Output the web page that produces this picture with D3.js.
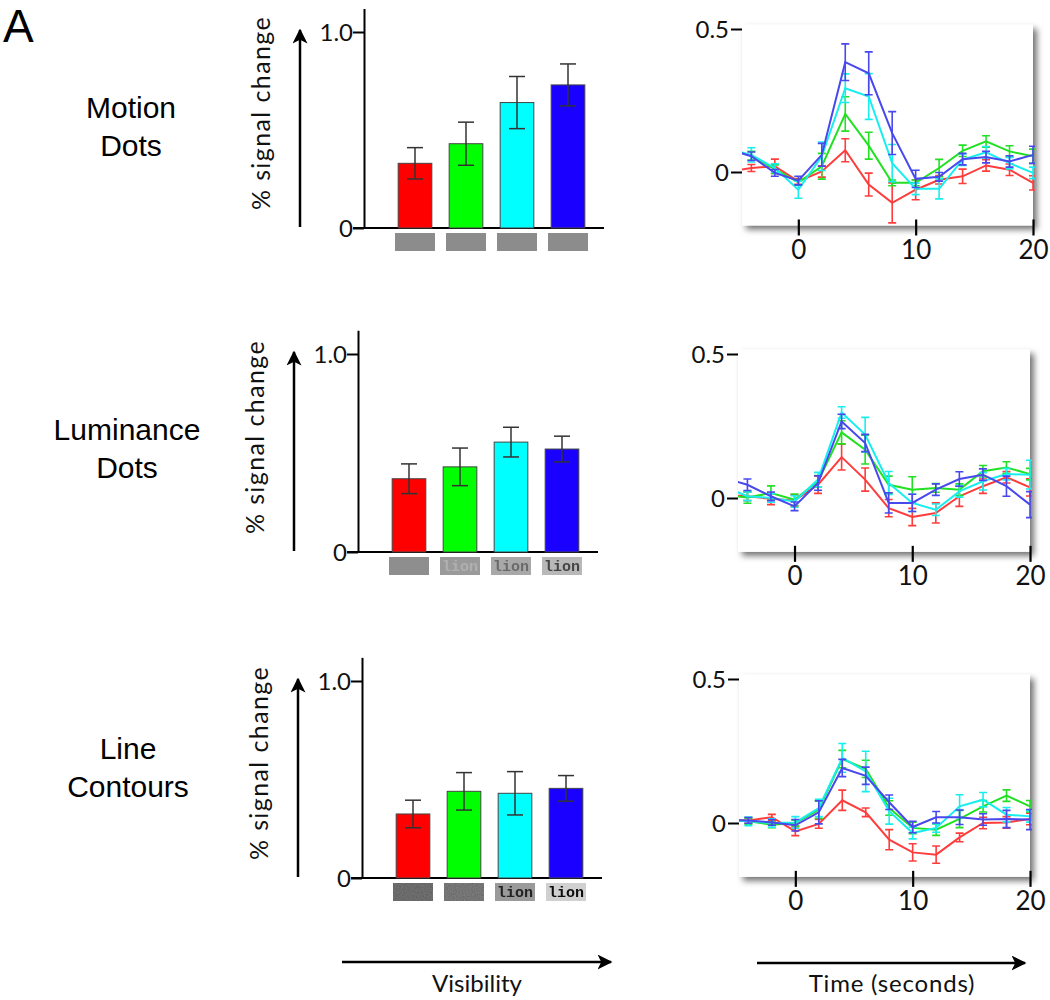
<!DOCTYPE html>
<html><head><meta charset="utf-8">
<script src="https://cdn.jsdelivr.net/npm/d3@7"></script>
<style>
html,body{margin:0;padding:0;background:#fff;}
svg{display:block;}
</style></head>
<body>
<svg id="chart" width="1050" height="1000"></svg>
<script>
// ---------- DATA ----------
const conditions = ["c1", "c2", "c3", "c4"];
const rowLabels = [["Motion", "Dots"], ["Luminance", "Dots"], ["Line", "Contours"]];
const barTickLabels = ["0", "1.0"];
const lineTickLabelsY = ["0", "0.5"];
const lineTickLabelsX = ["0", "10", "20"];
const stimulusText = [["", "", "", ""], ["", "lion", "lion", "lion"], ["", "", "lion", "lion"]];

const barMeansMotion = [0.33, 0.43, 0.64, 0.73];
const barErrMotion   = [0.08, 0.11, 0.133, 0.107];
const barMeansLum    = [0.37, 0.43, 0.555, 0.52];
const barErrLum      = [0.075, 0.095, 0.075, 0.065];
const barMeansLine   = [0.325, 0.44, 0.43, 0.455];
const barErrLine     = [0.07, 0.095, 0.11, 0.065];

const times = [-6, -4, -2, 0, 2, 4, 6, 8, 10, 12, 14, 16, 18, 20];

const motionRed    = [0.0, 0.014, 0.02, -0.033, 0.002, 0.076, -0.044, -0.108, -0.062, -0.027, -0.015, 0.023, 0.008, -0.038];
const motionRedErr = [0.012, 0.012, 0.025, 0.01, 0.02, 0.04, 0.04, 0.07, 0.035, 0.015, 0.025, 0.02, 0.02, 0.025];
const motionGreen    = [0.08, 0.057, 0.01, -0.036, 0.02, 0.203, 0.092, -0.038, -0.038, 0.014, 0.074, 0.107, 0.072, 0.055];
const motionGreenErr = [0.015, 0.015, 0.015, 0.01, 0.045, 0.06, 0.047, 0.01, 0.01, 0.03, 0.02, 0.02, 0.02, 0.025];
const motionCyan    = [0.08, 0.06, 0.014, -0.062, 0.055, 0.293, 0.264, 0.031, -0.059, -0.059, 0.043, 0.069, 0.031, -0.003];
const motionCyanErr = [0.02, 0.025, 0.015, 0.03, 0.05, 0.05, 0.08, 0.065, 0.02, 0.035, 0.02, 0.02, 0.02, 0.02];
const motionBlue    = [0.08, 0.055, -0.003, -0.03, 0.06, 0.384, 0.345, 0.136, -0.024, -0.017, 0.045, 0.052, 0.037, 0.06];
const motionBlueErr = [0.015, 0.015, 0.012, 0.015, 0.04, 0.064, 0.075, 0.075, 0.03, 0.015, 0.02, 0.02, 0.02, 0.03];

const lumRed    = [0.01, 0.006, -0.003, -0.009, 0.046, 0.142, 0.064, -0.035, -0.066, -0.052, 0.006, 0.041, 0.072, 0.037];
const lumRedErr = [0.02, 0.015, 0.02, 0.02, 0.03, 0.045, 0.04, 0.03, 0.03, 0.035, 0.035, 0.025, 0.02, 0.03];
const lumGreen    = [0.01, 0.002, 0.017, -0.006, 0.058, 0.228, 0.168, 0.046, 0.029, 0.035, 0.029, 0.093, 0.106, 0.083];
const lumGreenErr = [0.02, 0.02, 0.025, 0.02, 0.02, 0.04, 0.05, 0.03, 0.045, 0.015, 0.02, 0.02, 0.02, 0.02];
const lumCyan    = [0.04, 0.006, 0.0, -0.012, 0.064, 0.297, 0.22, 0.052, -0.017, -0.041, 0.023, 0.058, 0.083, 0.081];
const lumCyanErr = [0.015, 0.015, 0.015, 0.02, 0.025, 0.02, 0.06, 0.04, 0.03, 0.02, 0.02, 0.03, 0.02, 0.05];
const lumBlue    = [0.07, 0.046, 0.006, -0.029, 0.052, 0.266, 0.191, -0.017, -0.017, 0.029, 0.066, 0.081, 0.041, -0.023];
const lumBlueErr = [0.02, 0.02, 0.015, 0.015, 0.025, 0.025, 0.03, 0.035, 0.03, 0.02, 0.025, 0.02, 0.035, 0.045];

const contRed    = [0.01, 0.009, 0.02, -0.029, -0.003, 0.079, 0.037, -0.058, -0.102, -0.11, -0.05, 0.0, 0.002, 0.014];
const contRedErr = [0.01, 0.01, 0.01, 0.015, 0.015, 0.035, 0.015, 0.035, 0.03, 0.03, 0.015, 0.02, 0.02, 0.02];
const contGreen    = [0.01, 0.006, -0.006, 0.0, 0.046, 0.222, 0.188, 0.052, -0.017, -0.023, 0.014, 0.058, 0.095, 0.058];
const contGreenErr = [0.01, 0.01, 0.01, 0.01, 0.03, 0.03, 0.03, 0.025, 0.02, 0.02, 0.03, 0.02, 0.02, 0.02];
const contCyan    = [0.01, 0.006, 0.0, 0.002, 0.052, 0.226, 0.179, 0.041, -0.035, -0.017, 0.058, 0.081, 0.029, 0.023];
const contCyanErr = [0.015, 0.015, 0.015, 0.02, 0.03, 0.05, 0.07, 0.045, 0.02, 0.015, 0.04, 0.025, 0.025, 0.02];
const contBlue    = [0.01, 0.009, 0.002, -0.008, 0.037, 0.191, 0.164, 0.072, -0.014, 0.02, 0.02, 0.012, 0.014, 0.012];
const contBlueErr = [0.01, 0.01, 0.01, 0.02, 0.04, 0.03, 0.03, 0.025, 0.02, 0.02, 0.025, 0.02, 0.03, 0.035];

// ---------- ASSEMBLY ----------
const barMeans = [barMeansMotion, barMeansLum, barMeansLine];
const barErrs = [barErrMotion, barErrLum, barErrLine];
const tcMeans = [
  [motionRed, motionGreen, motionCyan, motionBlue],
  [lumRed, lumGreen, lumCyan, lumBlue],
  [contRed, contGreen, contCyan, contBlue]
];
const tcErrs = [
  [motionRedErr, motionGreenErr, motionCyanErr, motionBlueErr],
  [lumRedErr, lumGreenErr, lumCyanErr, lumBlueErr],
  [contRedErr, contGreenErr, contCyanErr, contBlueErr]
];

const barColors = ["#ff0000", "#00ff00", "#00ffff", "#1a00ff"];
const lineColors = ["#ff3c3c", "#22e022", "#19eeee", "#4848ee"];
const stimFill = [
  ["#8c8c8c", "#8c8c8c", "#8c8c8c", "#8c8c8c"],
  ["#8e8e8e", "#9a9a9a", "#a8a8a8", "#b8b8b8"],
  ["#7a7a7a", "#858585", "#9a9a9a", "#d0d0d0"]
];
const stimTextCol = [
  ["#8c8c8c", "#8c8c8c", "#8c8c8c", "#8c8c8c"],
  ["#8e8e8e", "#b0b0b0", "#6a6a6a", "#444"],
  ["#7a7a7a", "#858585", "#222", "#111"]
];

const layout = [
  {ax: 364, y0: 228, y1: 32, lLeft: 742, lRight: 1033, ly0: 172, ly05: 29, lab: [131, 118]},
  {ax: 358, y0: 552, y1: 354, lLeft: 738, lRight: 1030, ly0: 498, ly05: 354, lab: [127, 440]},
  {ax: 362, y0: 878, y1: 681, lLeft: 739, lRight: 1030, ly0: 823, ly05: 679, lab: [128, 759]}
];

const svg = d3.select("#chart");
const defs = svg.append("defs");
const sh = defs.append("filter").attr("id", "shadow").attr("x", "-5%").attr("y", "-5%").attr("width", "115%").attr("height", "120%");
sh.append("feDropShadow").attr("dx", 4).attr("dy", 4).attr("stdDeviation", 3).attr("flood-color", "#000").attr("flood-opacity", 0.55);
const bl = defs.append("filter").attr("id", "blur").attr("x", "-10%").attr("y", "-20%").attr("width", "120%").attr("height", "140%");
bl.append("feGaussianBlur").attr("stdDeviation", 0.7);
const noise = defs.append("filter").attr("id", "noise");
noise.append("feTurbulence").attr("type", "fractalNoise").attr("baseFrequency", 0.9).attr("numOctaves", 1).attr("result", "n");
noise.append("feColorMatrix").attr("in", "n").attr("type", "saturate").attr("values", 0).attr("result", "g");
noise.append("feComposite").attr("in", "g").attr("in2", "SourceGraphic").attr("operator", "in").attr("result", "gm");
noise.append("feBlend").attr("in", "SourceGraphic").attr("in2", "gm").attr("mode", "multiply");

const gill = "Lato, 'Open Sans', sans-serif";
const helv = "'Liberation Sans', Arial, sans-serif";

// Panel letter
svg.append("text").attr("x", 3).attr("y", 42).attr("font-family", helv).attr("font-size", 46)
  .attr("fill", "#000").text("A");

// arrow marker
const mk = defs.append("marker").attr("id", "arrow").attr("viewBox", "0 0 10 10").attr("refX", 9).attr("refY", 5)
  .attr("markerWidth", 6).attr("markerHeight", 6).attr("markerUnits", "strokeWidth").attr("orient", "auto");
mk.append("path").attr("d", "M0,0 L10,5 L0,10 L2.5,5 Z").attr("fill", "#000");

layout.forEach((L, r) => {
  // ---- Row label ----
  const lt = svg.append("text").attr("font-family", helv).attr("font-size", 30).attr("text-anchor", "middle").attr("fill", "#000");
  lt.append("tspan").attr("x", L.lab[0]).attr("y", L.lab[1]).text(rowLabels[r][0]);
  lt.append("tspan").attr("x", L.lab[0]).attr("y", L.lab[1] + 38).text(rowLabels[r][1]);

  // ---- Bar chart ----
  const yB = d3.scaleLinear().domain([0, 1]).range([L.y0, L.y1]);
  const step = 51;
  const xB = d3.scaleBand().domain(conditions)
    .range([L.ax + 51 - step / 2, L.ax + 51 + 3 * step + step / 2])
    .paddingInner(0.34).paddingOuter(0.17);
  const g = svg.append("g");

  // y axis
  const yAxisScale = d3.scaleLinear().domain([0, 1.12]).range([L.y0, yB(1.12)]);
  const ya = g.append("g").attr("transform", `translate(${L.ax},0)`)
    .call(d3.axisLeft(yAxisScale).tickValues([0, 1]).tickSize(11).tickSizeOuter(0)
      .tickFormat((d, i) => barTickLabels[i]));
  ya.select(".domain").attr("stroke", "#000").attr("stroke-width", 2);
  ya.selectAll(".tick line").attr("stroke", "#000").attr("stroke-width", 2);
  ya.selectAll(".tick text").attr("font-family", gill).attr("font-size", 24).attr("fill", "#111").attr("x", -11).attr("dy", "0.36em");

  // x axis line
  g.append("line").attr("x1", L.ax - 11).attr("x2", L.ax + 240).attr("y1", L.y0).attr("y2", L.y0)
    .attr("stroke", "#000").attr("stroke-width", 2);

  // bars
  g.selectAll("rect.bar").data(conditions).join("rect").attr("class", "bar")
    .attr("x", d => xB(d)).attr("width", xB.bandwidth())
    .attr("y", (d, i) => yB(barMeans[r][i])).attr("height", (d, i) => L.y0 - yB(barMeans[r][i]))
    .attr("fill", (d, i) => barColors[i]).attr("stroke", "#444").attr("stroke-width", 1);

  // error bars
  const eb = g.selectAll("g.eb").data(conditions).join("g").attr("class", "eb")
    .attr("stroke", "#333").attr("stroke-width", 1.5);
  eb.append("line").attr("x1", d => xB(d) + xB.bandwidth() / 2).attr("x2", d => xB(d) + xB.bandwidth() / 2)
    .attr("y1", (d, i) => yB(barMeans[r][i] - barErrs[r][i])).attr("y2", (d, i) => yB(barMeans[r][i] + barErrs[r][i]));
  [-1, 1].forEach(s => {
    eb.append("line").attr("x1", d => xB(d) + xB.bandwidth() / 2 - 8).attr("x2", d => xB(d) + xB.bandwidth() / 2 + 8)
      .attr("y1", (d, i) => yB(barMeans[r][i] + s * barErrs[r][i])).attr("y2", (d, i) => yB(barMeans[r][i] + s * barErrs[r][i]));
  });

  // stimulus thumbnails
  const st = g.selectAll("g.stim").data(conditions).join("g").attr("class", "stim");
  st.append("rect").attr("x", d => xB(d) + xB.bandwidth() / 2 - 20).attr("width", 40)
    .attr("y", L.y0 + 5).attr("height", 18)
    .attr("fill", (d, i) => stimFill[r][i]).attr("filter", (d, i) => (r === 2 && i < 2) ? "url(#noise)" : "url(#blur)");
  st.append("text").attr("x", d => xB(d) + xB.bandwidth() / 2).attr("y", L.y0 + 19)
    .attr("text-anchor", "middle").attr("font-family", "'Liberation Mono', 'DejaVu Sans Mono', monospace")
    .attr("font-weight", "bold").attr("font-size", 15)
    .attr("fill", (d, i) => stimTextCol[r][i]).attr("filter", "url(#blur)")
    .text((d, i) => stimulusText[r][i]);

  // y label arrow + text
  g.append("line").attr("x1", L.ax - 64).attr("x2", L.ax - 64).attr("y1", L.y0 - 1).attr("y2", L.y1 - 2)
    .attr("stroke", "#000").attr("stroke-width", 2.5).attr("marker-end", "url(#arrow)");
  g.append("text").attr("transform", `translate(${L.ax - 94},${L.y0 - 115}) rotate(-90)`)
    .attr("text-anchor", "middle").attr("font-family", gill).attr("font-size", 25)
    .attr("letter-spacing", 1.4).attr("fill", "#111")
    .text("% signal change");

  // ---- Time course chart ----
  const xT = d3.scaleLinear().domain([-4.8, 20]).range([L.lLeft, L.lRight]);
  const yT = d3.scaleLinear().domain([0, 0.5]).range([L.ly0, L.ly05]);
  const top = yT(0.515), bot = yT(-0.187);
  const gt = svg.append("g");
  gt.append("rect").attr("x", L.lLeft).attr("y", top).attr("width", L.lRight - L.lLeft).attr("height", bot - top)
    .attr("fill", "#fff").attr("filter", "url(#shadow)");
  const cid = "clip" + r;
  defs.append("clipPath").attr("id", cid).append("rect")
    .attr("x", L.lLeft).attr("y", top).attr("width", L.lRight - L.lLeft + 2).attr("height", bot - top);
  const inner = gt.append("g").attr("clip-path", `url(#${cid})`);
  const line = d3.line().x((d, i) => xT(times[i])).y(d => yT(d));
  tcMeans[r].forEach((ser, c) => {
    const sg = inner.append("g").attr("stroke", lineColors[c]).attr("fill", "none");
    sg.append("path").attr("d", line(ser)).attr("stroke-width", 2);
    ser.forEach((v, i) => {
      const e = tcErrs[r][c][i];
      const x = xT(times[i]);
      sg.append("line").attr("x1", x).attr("x2", x).attr("y1", yT(v - e)).attr("y2", yT(v + e)).attr("stroke-width", 1.6);
      [-1, 1].forEach(s => sg.append("line").attr("x1", x - 4).attr("x2", x + 4)
        .attr("y1", yT(v + s * e)).attr("y2", yT(v + s * e)).attr("stroke-width", 1.6));
    });
  });

  // y axis ticks
  const yta = gt.append("g").attr("transform", `translate(${L.lLeft},0)`)
    .call(d3.axisLeft(yT).tickValues([0, 0.5]).tickSize(11).tickFormat((d, i) => lineTickLabelsY[i]));
  yta.select(".domain").remove();
  yta.selectAll(".tick line").attr("stroke", "#000").attr("stroke-width", 2);
  yta.selectAll(".tick text").attr("font-family", gill).attr("font-size", 24).attr("fill", "#111").attr("x", -13).attr("dy", "0.36em");

  // x axis ticks
  const xta = gt.append("g").attr("transform", `translate(0,${bot - 6})`)
    .call(d3.axisBottom(xT).tickValues([0, 10, 20]).tickSize(16).tickFormat((d, i) => lineTickLabelsX[i]));
  xta.select(".domain").remove();
  xta.selectAll(".tick line").attr("stroke", "#000").attr("stroke-width", 2.2);
  xta.selectAll(".tick text").attr("font-family", gill).attr("font-size", 26).attr("fill", "#111").attr("y", 21).attr("dy", "0.71em");
});

// bottom arrows
svg.append("line").attr("x1", 342).attr("x2", 611).attr("y1", 962).attr("y2", 962)
  .attr("stroke", "#000").attr("stroke-width", 2.5).attr("marker-end", "url(#arrow)");
svg.append("text").attr("x", 477).attr("y", 992).attr("text-anchor", "middle").attr("font-family", gill)
  .attr("font-size", 24).attr("fill", "#111").text("Visibility");
svg.append("line").attr("x1", 757).attr("x2", 1025).attr("y1", 963).attr("y2", 963)
  .attr("stroke", "#000").attr("stroke-width", 2.5).attr("marker-end", "url(#arrow)");
svg.append("text").attr("x", 892).attr("y", 992).attr("text-anchor", "middle").attr("font-family", gill)
  .attr("font-size", 24).attr("letter-spacing", 0.8).attr("fill", "#111").text("Time (seconds)");
</script>
</body></html>
